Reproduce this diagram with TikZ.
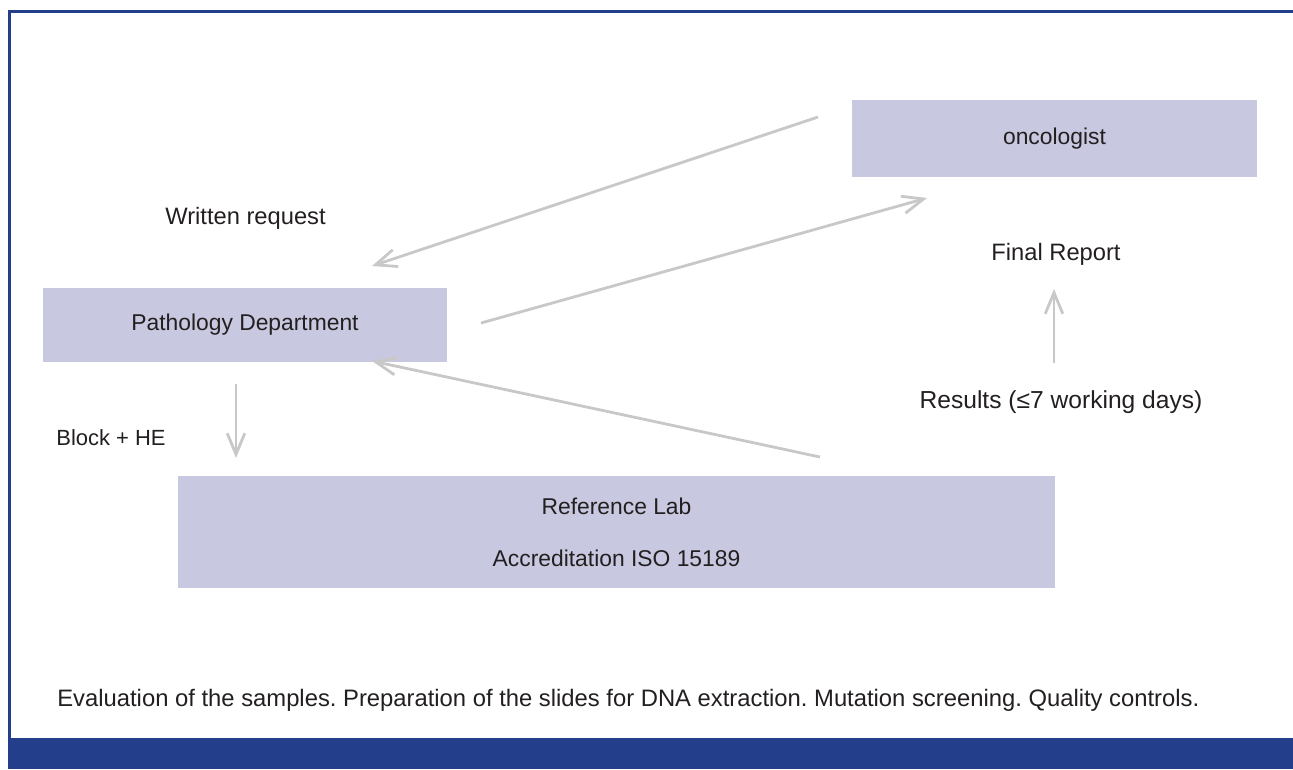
\documentclass[tikz,border=0pt]{standalone}
\usepackage{fontspec}
\setmainfont{Liberation Sans}
\usetikzlibrary{arrows.meta}
\definecolor{framecol}{RGB}{35,62,139}
\definecolor{boxfill}{RGB}{200,200,224}
\definecolor{arrowgray}{RGB}{200,200,200}
\definecolor{textcol}{RGB}{35,31,32}
\frenchspacing

\begin{document}
\begin{tikzpicture}[x=0.02cm, y=-0.02cm,
  box/.style={fill=boxfill, inner sep=0pt, text=textcol, align=center, font=\fontsize{13}{15}\selectfont},
  flow/.style={draw=arrowgray, line width=1.6pt, -{Straight Barb[length=12pt, width=10pt]}},
  note/.style={text=textcol, inner sep=0pt, font=\fontsize{13.5}{16}\selectfont}]
\useasboundingbox (0,0) rectangle (1293,769);

% Frame and the band at the bottom
\fill[framecol] (8,10) rectangle (1293,13);
\fill[framecol] (8,10) rectangle (11,738);
\fill[framecol] (8,738) rectangle (1293,769);

% Boxes
\node[box, minimum width=8.1cm, minimum height=1.54cm] (onco) at (1054.5,138.5) {oncologist};
\node[box, minimum width=8.08cm, minimum height=1.48cm] (patho) at (245,325) {Pathology Department};
\node[box, minimum width=17.54cm, minimum height=2.24cm, font=\fontsize{13}{29.5}\selectfont] (reflab) at (616.5,532) {Reference Lab\\Accreditation ISO 15189};

% Labels
\node[note] (request) at (245.5,218) {Written request};
\node[note] (report) at (1056,254) {Final Report};
\node[note, font=\fontsize{14}{16}\selectfont] (results) at (1061,402) {Results (≤7 working days)};
\node[note, font=\fontsize{12.5}{14}\selectfont] (block) at (111,438) {Block + HE};
\node[note, anchor=west, font=\fontsize{13.55}{16}\selectfont] (caption) at (57,700) {Evaluation of the samples. Preparation of the slides for DNA extraction. Mutation screening. Quality controls.};

% Arrow end points
\coordinate (req-s) at (818,117);
\coordinate (req-e) at (372,266);
\coordinate (rep-s) at (481,323);
\coordinate (rep-e) at (927,198);
\coordinate (res-s) at (820,457);
\coordinate (res-e) at (372,361);
\coordinate (blk-s) at (236,384);
\coordinate (blk-e) at (236,458);
\coordinate (fin-s) at (1054,363);
\coordinate (fin-e) at (1054,289);

% Arrows
\draw[flow] (req-s) -- (req-e);
\draw[flow] (rep-s) -- (rep-e);
\draw[flow] (res-s) -- (res-e);
\draw[flow] (blk-s) -- (blk-e);
\draw[flow] (fin-s) -- (fin-e);
\end{tikzpicture}
\end{document}
